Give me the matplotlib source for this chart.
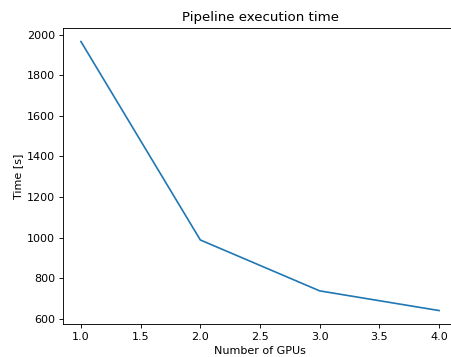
import matplotlib
matplotlib.use("Agg")
import matplotlib.pyplot as plt

# GPU count vs pipeline time
gpus = [1, 2, 3, 4]
times = [1966, 988, 737, 640]

fig = plt.figure(figsize=(451 / 80, 357 / 80), dpi=80)
ax = fig.add_axes([0.1397, 0.0924, 0.8736, 0.829])
ax.plot(gpus, times)
ax.set_title("Pipeline execution time")
ax.set_xlabel("Number of GPUs")
ax.set_ylabel("Time [s]")
ax.set_yticks([600, 800, 1000, 1200, 1400, 1600, 1800, 2000])

fig.savefig("out.png", dpi=80)
